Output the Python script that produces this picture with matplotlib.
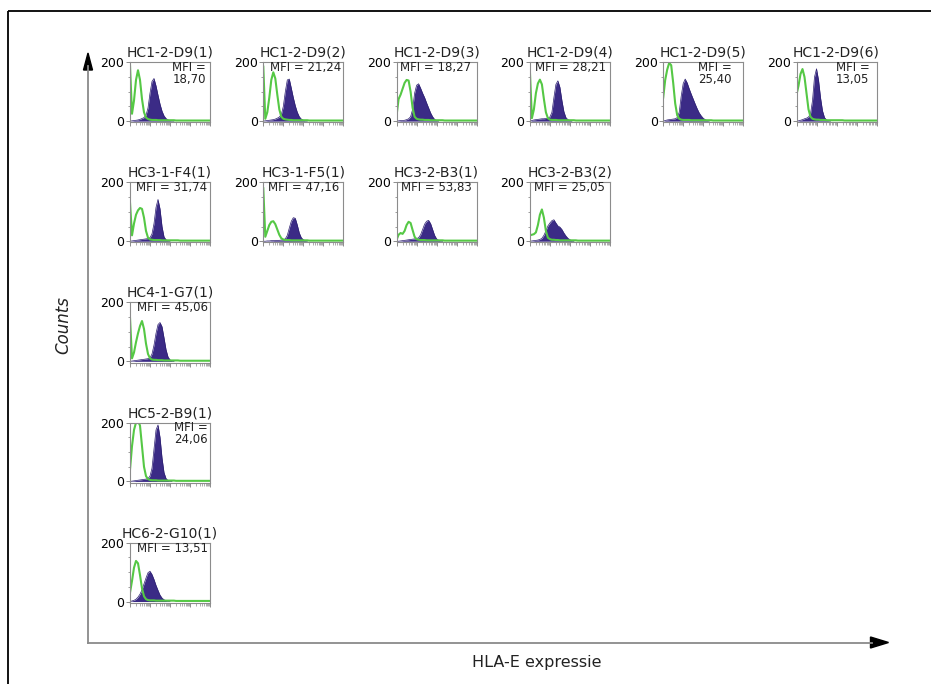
import numpy as np
import matplotlib
matplotlib.use("Agg")
import matplotlib.pyplot as plt
from matplotlib.patches import Polygon

# ---------------- data ----------------
n_channels = 41
channel = np.linspace(0, 1, n_channels)   # relative position on the (log) fluorescence axis

titles = ["HC1-2-D9(1)", "HC1-2-D9(2)", "HC1-2-D9(3)", "HC1-2-D9(4)", "HC1-2-D9(5)", "HC1-2-D9(6)",
          "HC3-1-F4(1)", "HC3-1-F5(1)", "HC3-2-B3(1)", "HC3-2-B3(2)",
          "HC4-1-G7(1)", "HC5-2-B9(1)", "HC6-2-G10(1)"]
mfi_values = ["18,70", "21,24", "18,27", "28,21", "25,40", "13,05",
              "31,74", "47,16", "53,83", "25,05", "45,06", "24,06", "13,51"]

# isotype control (green outline) counts
iso_1 = [190, 25, 70, 140, 173, 140, 75, 30, 12, 7, 5,
         4, 4, 4, 3, 3, 3, 3, 3, 3, 3,
         3, 3, 2, 2, 2, 2, 2, 2, 2, 2,
         2, 2, 2, 2, 2, 2, 2, 2, 2, 2]
iso_2 = [185, 8, 30, 80, 140, 166, 145, 90, 40, 15, 8,
         6, 5, 4, 4, 3, 3, 3, 3, 3, 3,
         3, 3, 2, 2, 2, 2, 2, 2, 2, 2,
         2, 2, 2, 2, 2, 2, 2, 2, 2, 2]
iso_3 = [20, 75, 90, 110, 130, 140, 138, 100, 45, 15, 8,
         6, 5, 5, 4, 4, 4, 3, 3, 3, 3,
         3, 3, 3, 2, 2, 2, 2, 2, 2, 2,
         2, 2, 2, 2, 2, 2, 2, 2, 2, 2]
iso_4 = [170, 10, 40, 95, 128, 141, 125, 75, 30, 10, 5,
         4, 4, 4, 3, 3, 3, 3, 3, 3, 3,
         3, 3, 2, 2, 2, 2, 2, 2, 2, 2,
         2, 2, 2, 2, 2, 2, 2, 2, 2, 2]
iso_5 = [80, 140, 175, 198, 190, 130, 60, 20, 8, 5, 4,
         4, 4, 4, 3, 3, 3, 3, 3, 3, 3,
         3, 3, 3, 3, 2, 2, 2, 2, 2, 2,
         2, 2, 2, 2, 2, 2, 2, 2, 2, 2]
iso_6 = [90, 120, 160, 177, 150, 95, 40, 15, 8, 6, 5,
         5, 4, 4, 4, 3, 3, 3, 3, 3, 3,
         3, 3, 3, 2, 2, 2, 2, 2, 2, 2,
         2, 2, 2, 2, 2, 2, 2, 2, 2, 2]
iso_7 = [132, 20, 60, 90, 105, 113, 110, 80, 35, 12, 6,
         5, 4, 4, 4, 4, 3, 3, 3, 3, 3,
         3, 3, 3, 3, 2, 2, 2, 2, 2, 2,
         2, 2, 2, 2, 2, 2, 2, 2, 2, 2]
iso_8 = [180, 15, 35, 55, 66, 68, 58, 40, 22, 10, 6,
         4, 4, 4, 3, 3, 3, 3, 3, 3, 3,
         3, 3, 2, 2, 2, 2, 2, 2, 2, 2,
         2, 2, 2, 2, 2, 2, 2, 2, 2, 2]
iso_9 = [5, 22, 28, 25, 35, 55, 66, 62, 38, 15, 7,
         5, 4, 4, 4, 3, 3, 3, 3, 3, 3,
         3, 3, 3, 2, 2, 2, 2, 2, 2, 2,
         2, 2, 2, 2, 2, 2, 2, 2, 2, 2]
iso_10 = [20, 22, 24, 30, 55, 90, 108, 80, 35, 12, 7,
          5, 5, 4, 4, 3, 3, 3, 3, 3, 3,
          3, 3, 3, 2, 2, 2, 2, 2, 2, 2,
          2, 2, 2, 2, 2, 2, 2, 2, 2, 2]
iso_11 = [148, 10, 30, 65, 95, 120, 137, 110, 60, 25, 10,
          6, 5, 5, 4, 4, 4, 3, 3, 3, 3,
          3, 3, 3, 3, 2, 2, 2, 2, 2, 2,
          2, 2, 2, 2, 2, 2, 2, 2, 2, 2]
iso_12 = [40, 120, 175, 200, 205, 190, 120, 50, 18, 8, 5,
          4, 4, 4, 3, 3, 3, 3, 3, 3, 3,
          3, 3, 2, 2, 2, 2, 2, 2, 2, 2,
          2, 2, 2, 2, 2, 2, 2, 2, 2, 2]
iso_13 = [30, 70, 115, 138, 130, 90, 45, 18, 8, 5, 4,
          4, 4, 3, 3, 3, 3, 3, 3, 3, 3,
          3, 3, 2, 2, 2, 2, 2, 2, 2, 2,
          2, 2, 2, 2, 2, 2, 2, 2, 2, 2]

# HLA-E stained (filled purple) counts, from the first channel until the signal ends
hla_1 = [0, 1, 2, 3, 4, 6, 9, 12, 20, 45, 95, 135, 145, 120, 88, 58, 34, 18, 9, 4, 2, 1, 0]
hla_2 = [0, 1, 2, 3, 4, 5, 7, 10, 14, 22, 50, 100, 140, 143, 112, 80, 52, 30, 15, 7, 3, 1, 0]
hla_3 = [0, 1, 2, 2, 3, 5, 8, 15, 40, 95, 122, 127, 112, 95, 80, 62, 45, 28, 15, 6, 2, 0]
hla_4 = [0, 2, 4, 5, 6, 7, 8, 8, 9, 10, 14, 30, 80, 125, 137, 115, 70, 32, 12, 5, 2, 0]
hla_5 = [0, 2, 4, 5, 6, 7, 8, 12, 30, 85, 128, 143, 130, 110, 92, 75, 58, 42, 28, 18, 10, 5, 2, 0]
hla_6 = [0, 1, 3, 5, 8, 10, 14, 25, 70, 150, 178, 140, 80, 35, 12, 4, 1, 0]
hla_7 = [0, 1, 2, 3, 4, 5, 6, 7, 8, 9, 12, 25, 60, 115, 142, 110, 50, 15, 5, 2, 0]
hla_8 = [0, 0, 1, 1, 2, 2, 3, 3, 3, 4, 5, 8, 20, 45, 68, 80, 78, 55, 28, 12, 5, 2, 0]
hla_9 = [0, 0, 1, 2, 3, 4, 5, 6, 7, 8, 9, 12, 22, 40, 58, 68, 71, 60, 40, 20, 8, 3, 1, 0]
hla_10 = [0, 1, 2, 3, 4, 6, 10, 20, 35, 52, 62, 70, 73, 62, 52, 48, 40, 28, 18, 10, 5, 2, 0]
hla_11 = [0, 1, 2, 3, 4, 5, 6, 7, 8, 9, 12, 25, 55, 95, 125, 132, 118, 80, 40, 15, 5, 2, 0]
hla_12 = [0, 1, 2, 3, 4, 5, 6, 7, 8, 10, 18, 45, 110, 175, 192, 150, 80, 30, 10, 3, 1, 0]
hla_13 = [0, 2, 4, 8, 15, 25, 40, 60, 80, 98, 103, 92, 75, 55, 38, 22, 12, 6, 3, 1, 0]

iso_series = [iso_1, iso_2, iso_3, iso_4, iso_5, iso_6, iso_7, iso_8, iso_9, iso_10, iso_11, iso_12, iso_13]
hla_series = [hla_1, hla_2, hla_3, hla_4, hla_5, hla_6, hla_7, hla_8, hla_9, hla_10, hla_11, hla_12, hla_13]

y_tick_values = [0, 200]
y_tick_labels = ["0", "200"]

# ---------------- layout / style ----------------
panel_row = [0, 0, 0, 0, 0, 0, 1, 1, 1, 1, 2, 3, 4]
panel_col = [0, 1, 2, 3, 4, 5, 0, 1, 2, 3, 0, 0, 0]
mfi_two_lines = [True, False, False, False, True, True, False, False, False, False, False, True, False]
mfi_xpos = [0.74, 0.53, 0.49, 0.51, 0.64, 0.70, 0.52, 0.51, 0.50, 0.50, 0.53, 0.76, 0.53]

GREEN = "#55c845"
PURPLE = "#3b2b86"
PURPLE_EDGE = "#2c1f70"
FRAME = "#8c8c8c"

W, H = 931, 684
fig = plt.figure(figsize=(W / 100, H / 100), dpi=100)
fig.patch.set_facecolor("white")

# background overlay in pixel coordinates for arrows / border
bg = fig.add_axes([0, 0, 1, 1], zorder=0)
bg.set_xlim(0, W)
bg.set_ylim(H, 0)
bg.axis("off")
bg.plot([7.5, 7.5], [H, 10.5], color="black", lw=1.3, solid_capstyle="butt")
bg.plot([7.5, W], [10.5, 10.5], color="black", lw=1.3, solid_capstyle="butt")
bg.plot([88, 88], [66, 642.5], color="#8a8a8a", lw=1.3)
bg.plot([88, 872], [642.5, 642.5], color="#8a8a8a", lw=1.3)
bg.add_patch(Polygon([[83.5, 70], [92.5, 70], [88, 53]], closed=True, color="black"))
bg.add_patch(Polygon([[870.5, 637], [870.5, 648], [888.5, 642.5]], closed=True, color="black"))
bg.text(63, 325, "Counts", rotation=90, fontsize=12, style="italic",
        ha="center", va="center", color="#222222")
bg.text(537, 663, "HLA-E expressie", fontsize=11.5, ha="center", va="center", color="#222222")

# minor tick positions resembling a 4-decade log axis
minor_x = sorted(set(np.log10(k * 10.0 ** d) / 4 for d in range(4) for k in range(2, 10)))
major_x = [0, 0.25, 0.5, 0.75, 1.0]

ax_w, ax_h = 80, 60
for i in range(len(titles)):
    left_px = 130 + 133.3 * panel_col[i]
    bottom_px = 122.3 + 120.1 * panel_row[i]
    ax = fig.add_axes([left_px / W, 1 - bottom_px / H, ax_w / W, ax_h / H], zorder=2)
    ax.set_xlim(0, 1)
    ax.set_ylim(-4, 200)

    hla = hla_series[i]
    xh = channel[:len(hla)]
    ax.fill_between(xh, hla, 0, color=PURPLE, lw=0)
    ax.plot(xh, hla, color=PURPLE_EDGE, lw=0.5)
    ax.plot(channel, iso_series[i], color=GREEN, lw=1.5)

    for sp in ax.spines.values():
        sp.set_color(FRAME)
        sp.set_linewidth(0.8)
    ax.set_yticks(y_tick_values)
    ax.set_yticklabels(y_tick_labels, fontsize=9)
    ax.set_yticks([50, 100, 150], minor=True)
    ax.set_xticks(major_x)
    ax.set_xticklabels([])
    ax.set_xticks(minor_x, minor=True)
    ax.tick_params(axis="y", which="major", length=3, width=0.7, color=FRAME, pad=1)
    ax.tick_params(axis="y", which="minor", length=1.5, width=0.6, color=FRAME)
    ax.tick_params(axis="x", which="major", length=3, width=0.7, color=FRAME)
    ax.tick_params(axis="x", which="minor", length=1.8, width=0.5, color=FRAME)
    ax.set_title(titles[i], fontsize=10, pad=4, color="#222222")

    if mfi_two_lines[i]:
        ax.text(mfi_xpos[i], 0.92, "MFI =", transform=ax.transAxes, fontsize=8.5,
                ha="center", va="center", color="#222222")
        ax.text(mfi_xpos[i], 0.72, mfi_values[i], transform=ax.transAxes, fontsize=8.5,
                ha="center", va="center", color="#222222")
    else:
        ax.text(mfi_xpos[i], 0.91, "MFI = " + mfi_values[i], transform=ax.transAxes,
                fontsize=8.5, ha="center", va="center", color="#222222")

fig.savefig("out.png", dpi=100, facecolor="white")
